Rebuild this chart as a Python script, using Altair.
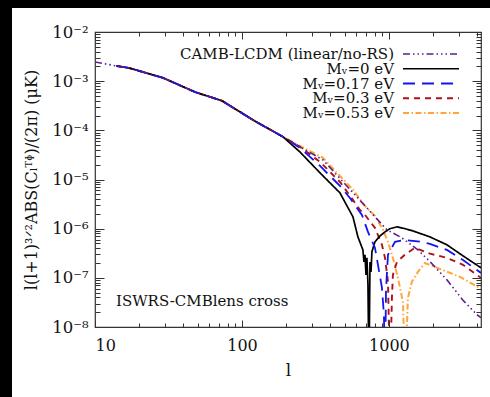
import altair as alt
import pandas as pd

FONT = "DejaVu Serif"

names = ["CAMB-LCDM (linear/no-RS)", "Mᵥ=0 eV", "Mᵥ=0.17 eV", "Mᵥ=0.3 eV", "Mᵥ=0.53 eV"]
colors = ["#5a1f8c", "#000000", "#1414f0", "#b01218", "#ffa53a"]
dashes = [[7, 3, 1.5, 3, 1.5, 3, 1.5, 3], [1, 0], [12, 7], [6, 5], [6, 2.5, 1.5, 2.5]]
widths = [1.6, 2.0, 1.9, 1.9, 1.9]

# CAMB linear (no RS)
camb_l = [10, 14, 17, 29, 48, 73, 100, 122, 190, 248, 356, 569, 968, 1225, 1574, 1900, 2480, 3190, 3970, 4230]
camb_v = [2.45e-3, 2.04e-3, 1.86e-3, 1.17e-3, 6.0e-4, 4.0e-4, 2.24e-4, 1.55e-4, 7.4e-5, 4.6e-5,
          2.5e-5, 5.4e-6, 9.5e-7, 6.5e-7, 3.7e-7, 2.14e-7, 9.1e-8, 3.5e-8, 1.78e-8, 1.55e-8]

# M_nu = 0 eV
m0_l = [14, 17, 29, 48, 73, 100, 122, 190, 248, 340, 464, 569, 615, 665, 676, 687, 698, 708, 720, 731,
        743, 755, 766, 803, 869, 940, 1016, 1133, 1284, 1456, 1900, 2480, 3190, 4230]
m0_v = [2.04e-3, 1.86e-3, 1.17e-3, 6.0e-4, 4.0e-4, 2.24e-4, 1.55e-4, 7.4e-5, 3.63e-5, 1.36e-5, 5.35e-6,
        1.74e-6, 6.8e-7, 3.7e-7, 2.1e-7, 2.95e-7, 1.15e-7, 2.57e-7, 7.2e-8, 1e-9,
        2.1e-7, 1.32e-7, 3.4e-7, 5.4e-7, 7.1e-7, 8.6e-7, 1.0e-6, 1.09e-6, 1.0e-6, 9.0e-7, 6.8e-7,
        4.7e-7, 2.8e-7, 1.6e-7]

# M_nu = 0.17 eV
m17_l = [14, 17, 29, 48, 73, 100, 122, 190, 248, 340, 464, 543, 655, 720, 803, 842, 896, 924, 940, 955,
         985, 1099, 1284, 1675, 1900, 2480, 3190, 4230]
m17_v = [2.04e-3, 1.86e-3, 1.17e-3, 6.0e-4, 4.0e-4, 2.24e-4, 1.55e-4, 7.4e-5, 4.4e-5, 1.89e-5, 7.4e-6,
         4.2e-6, 1.9e-6, 8.6e-7, 4.1e-7, 1.84e-7, 6.3e-8, 1.8e-8, 1e-9, 5.7e-8,
         2.95e-7, 5.4e-7, 5.9e-7, 5.4e-7, 4.9e-7, 3.7e-7, 2.3e-7, 1.26e-7]

# M_nu = 0.3 eV
m30_l = [14, 17, 29, 48, 73, 100, 122, 190, 248, 340, 464, 569, 635, 687, 803, 896, 940, 985, 1016, 1048,
         1064, 1133, 1284, 1503, 1758, 1900, 2480, 3190, 4230]
m30_v = [2.04e-3, 1.86e-3, 1.17e-3, 6.0e-4, 4.0e-4, 2.24e-4, 1.55e-4, 7.4e-5, 4.6e-5, 2.28e-5, 8.9e-6,
         3.85e-6, 2.4e-6, 1.9e-6, 1.04e-6, 4.7e-7, 2.55e-7, 8.3e-8, 1e-9, 3.9e-8,
         1.15e-7, 2.1e-7, 2.95e-7, 4.1e-7, 3.4e-7, 3.1e-7, 2.55e-7, 1.84e-7, 1.0e-7]

# M_nu = 0.53 eV
m53_l = [14, 17, 29, 48, 73, 100, 122, 190, 248, 356, 569, 687, 803, 910, 985, 1064, 1151, 1245, 1290,
         1346, 1432, 1574, 1758, 2224, 3040, 4230]
m53_v = [2.04e-3, 1.86e-3, 1.17e-3, 6.0e-4, 4.0e-4, 2.24e-4, 1.55e-4, 7.4e-5, 4.8e-5, 2.75e-5, 6.2e-6,
         2.9e-6, 1.82e-6, 9.5e-7, 5.4e-7, 2.55e-7, 1.0e-7, 3.25e-8, 1e-9,
         3.9e-8, 8.3e-8, 1.32e-7, 2.0e-7, 1.52e-7, 1.05e-7, 6.0e-8]

x_major = [10, 100, 1000]
x_minor = [20, 30, 40, 50, 60, 70, 80, 90, 200, 300, 400, 500, 600, 700, 800, 900, 2000, 3000, 4000]
y_major = [1e-8, 1e-7, 1e-6, 1e-5, 1e-4, 1e-3, 1e-2]
y_minor = [k * 10.0 ** d for d in range(-8, -2) for k in range(2, 10)]

annotation = ["ISWRS-CMBlens cross"]
x_title = "l"
y_title = "l(l+1)³ᐟ²ABS(Cₗᵀᶲ)/(2π)  (μK)"

series = [(names[4], m53_l, m53_v), (names[3], m30_l, m30_v), (names[1], m0_l, m0_v),
          (names[2], m17_l, m17_v), (names[0], camb_l, camb_v)]
rows = []
for name, ls, vs in series:
    for j, (l, v) in enumerate(zip(ls, vs)):
        rows.append({"series": name, "l": l, "v": v, "i": j})
df = pd.DataFrame(rows)

legend_df = pd.DataFrame({"series": names, "row": list(range(len(names)))})

xscale = alt.Scale(type="log", domain=[10, 4230], nice=False)
yscale = alt.Scale(type="log", domain=[1e-8, 1e-2], nice=False)
cscale = alt.Scale(domain=names, range=colors)
dscale = alt.Scale(domain=names, range=dashes)
wscale = alt.Scale(domain=names, range=widths)

ylabel = ("datum.value > 0.005 ? '10⁻²' : datum.value > 0.0005 ? '10⁻³' : "
          "datum.value > 0.00005 ? '10⁻⁴' : datum.value > 0.000005 ? '10⁻⁵' : "
          "datum.value > 0.0000005 ? '10⁻⁶' : datum.value > 0.00000005 ? '10⁻⁷' : '10⁻⁸'")

tick_common = dict(domain=False, grid=False, tickColor="#333", tickWidth=1, zindex=1)


def ax(orient, values, size, labels=False, **kw):
    return alt.Axis(orient=orient, values=values, tickSize=size, offset=-size, labels=labels,
                    **tick_common, **kw)


one = pd.DataFrame({"a": [0]})
border_left = alt.Chart(one).mark_rect(color="black").encode(
    x=alt.value(-96), x2=alt.value(-83), y=alt.value(-33), y2=alt.value(366))
border_top = alt.Chart(one).mark_rect(color="black").encode(
    x=alt.value(-96), x2=alt.value(396), y=alt.value(-33), y2=alt.value(-24))

lines = alt.Chart(df).mark_line(clip=True).encode(
    x=alt.X("l:Q", scale=xscale,
            axis=ax("bottom", x_major, 7, labels=True, format="d", labelFont=FONT, labelFontSize=16,
                    labelColor="#111", labelPadding=10, title=x_title, titleFont=FONT,
                    titleFontSize=17, titleFontWeight="normal", titleColor="#111", titlePadding=9)),
    y=alt.Y("v:Q", scale=yscale,
            axis=ax("left", y_major, 9, labels=True, labelExpr=ylabel, labelFont=FONT,
                    labelFontSize=16.5, labelColor="#111", labelPadding=7, title=y_title,
                    titleFont=FONT, titleFontSize=16, titleFontWeight="normal", titleColor="#111",
                    titlePadding=12)),
    color=alt.Color("series:N", scale=cscale, legend=None),
    strokeDash=alt.StrokeDash("series:N", scale=dscale, legend=None),
    strokeWidth=alt.StrokeWidth("series:N", scale=wscale, legend=None),
    order=alt.Order("i:Q"),
)


def tick_layer(xo, xv, xs, yo, yv, ys):
    return alt.Chart(df).mark_point(opacity=0, size=0).encode(
        x=alt.X("l:Q", scale=xscale, axis=ax(xo, xv, xs, title=None)),
        y=alt.Y("v:Q", scale=yscale, axis=ax(yo, yv, ys, title=None)),
    )


t2 = tick_layer("top", x_major, 7, "right", y_major, 9)
t3 = tick_layer("bottom", x_minor, 4, "left", y_minor, 5)
t4 = tick_layer("top", x_minor, 4, "right", y_minor, 5)

leg_y = alt.Y("row:Q", scale=alt.Scale(domain=[0, 4], range=[22, 81]), axis=None)
leg_rules = alt.Chart(legend_df).mark_rule().encode(
    x=alt.value(308), x2=alt.value(364), y=leg_y,
    color=alt.Color("series:N", scale=cscale, legend=None),
    strokeDash=alt.StrokeDash("series:N", scale=dscale, legend=None),
    strokeWidth=alt.StrokeWidth("series:N", scale=wscale, legend=None),
)
leg_text = alt.Chart(legend_df).mark_text(align="right", baseline="middle", font=FONT,
                                          fontSize=15, color="#111").encode(
    x=alt.value(299), y=leg_y, text="series:N")

annot = alt.Chart(pd.DataFrame({"t": annotation})).mark_text(
    align="left", baseline="middle", font=FONT, fontSize=15, color="#111").encode(
    x=alt.value(21), y=alt.value(269), text="t:N")

chart = alt.layer(lines, t2, t3, t4, leg_rules, leg_text, annot, border_left, border_top).resolve_scale(
    x="independent", y="independent").resolve_axis(x="independent", y="independent").properties(
    width=386, height=295, autosize=alt.AutoSizeParams(type="none"),
    padding={"left": 95, "top": 32, "right": 9, "bottom": 70},
    background="white",
).configure_view(stroke="#333", strokeWidth=1.2)

chart.save("out.html", embed_options={"renderer": "svg", "actions": False})
